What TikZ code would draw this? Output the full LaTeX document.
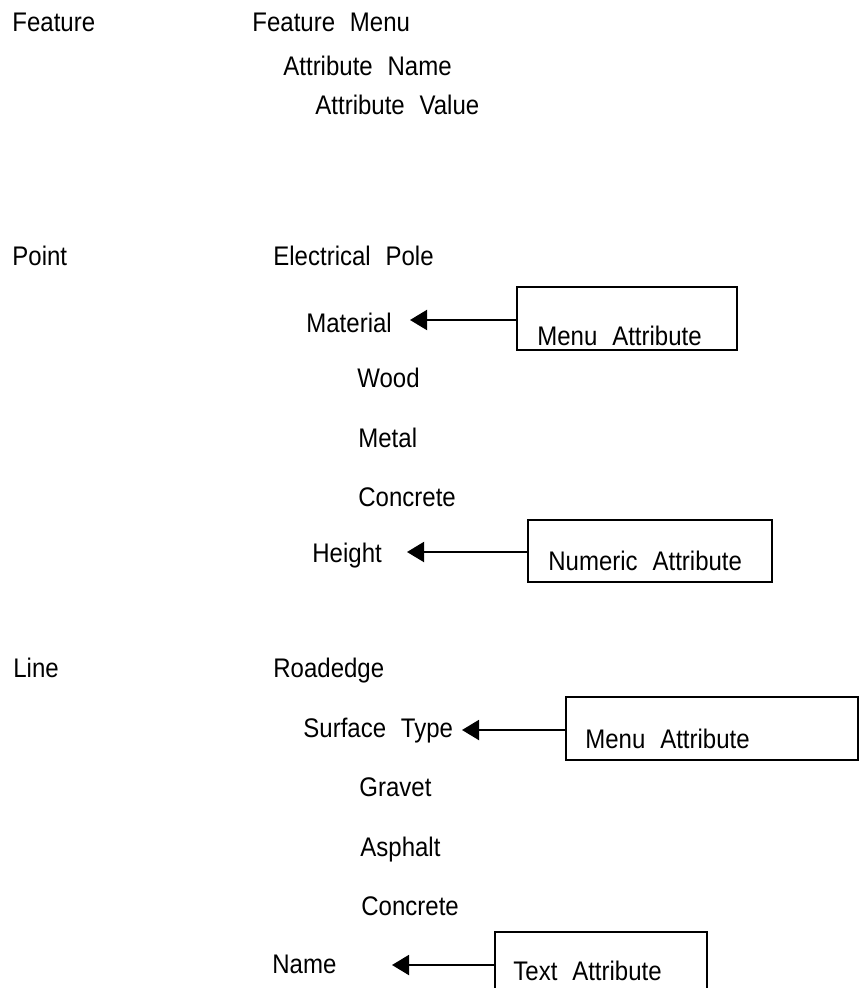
\documentclass[tikz,border=0pt]{standalone}
\usepackage{fontspec}
\setmainfont{Liberation Sans}
\usetikzlibrary{arrows.meta}
\newcommand{\tx}[1]{\scalebox{1}[1.12]{#1}}
\begin{document}
\begin{tikzpicture}[x=0.5pt,y=-0.5pt,
  lbl/.style={anchor=base west, inner sep=0pt, font=\fontsize{12}{14}\selectfont,
    execute at begin node={\spaceskip=0.62em\relax}},
  abox/.style={draw, line width=1pt, rectangle, inner sep=0pt},
  arr/.style={line width=1pt, -{Triangle[length=8.5pt,width=10pt]}}]
\useasboundingbox (0,0) rectangle (861,988);
\clip (0,0) rectangle (861,988);
% header
\node[lbl] (feat) at (12,32) {\tx{Feature}};
\node[lbl] (fmenu) at (252,32) {\tx{Feature Menu}};
\node[lbl] (aname) at (283,76) {\tx{Attribute Name}};
\node[lbl] (aval) at (315,115) {\tx{Attribute Value}};
% point
\node[lbl] (point) at (12,266) {\tx{Point}};
\node[lbl] (pole) at (273,266) {\tx{Electrical Pole}};
\node[lbl] (mat) at (306,333) {\tx{Material}};
\node[lbl] (wood) at (357,387) {\tx{Wood}};
\node[lbl] (metal) at (358,447) {\tx{Metal}};
\node[lbl] (conc1) at (358,506) {\tx{Concrete}};
\node[lbl] (height) at (312,562) {\tx{Height}};
% line
\node[lbl] (line) at (13,677) {\tx{Line}};
\node[lbl] (road) at (273,677) {\tx{Roadedge}};
\node[lbl] (surf) at (303,737) {\tx{Surface Type}};
\node[lbl] (grav) at (359,796) {\tx{Gravet}};
\node[lbl] (asph) at (360,856) {\tx{Asphalt}};
\node[lbl] (conc2) at (361,915) {\tx{Concrete}};
\node[lbl] (name) at (272,973) {\tx{Name}};
% boxes
\node[abox, minimum width=110pt, minimum height=31.5pt] (b1) at (627,318.5) {};
\node[lbl] (t1) at (537,345) {\tx{Menu Attribute}};
\node[abox, minimum width=122pt, minimum height=31pt] (b2) at (650,551) {};
\node[lbl] (t2) at (548,570) {\tx{Numeric Attribute}};
\node[abox, minimum width=146pt, minimum height=31.5pt] (b3) at (712,728.5) {};
\node[lbl] (t3) at (585,748) {\tx{Menu Attribute}};
\node[abox, minimum width=106pt, minimum height=33pt] (b4) at (601,965) {};
\node[lbl] (t4) at (513,980) {\tx{Text Attribute}};
% arrows
\coordinate (p1) at (410,320);
\coordinate (p2) at (407,552);
\coordinate (p3) at (462,730);
\coordinate (p4) at (392,965);
\draw[arr] (b1.west |- p1) -- (p1);
\draw[arr] (b2.west |- p2) -- (p2);
\draw[arr] (b3.west |- p3) -- (p3);
\draw[arr] (b4.west |- p4) -- (p4);
\end{tikzpicture}
\end{document}
